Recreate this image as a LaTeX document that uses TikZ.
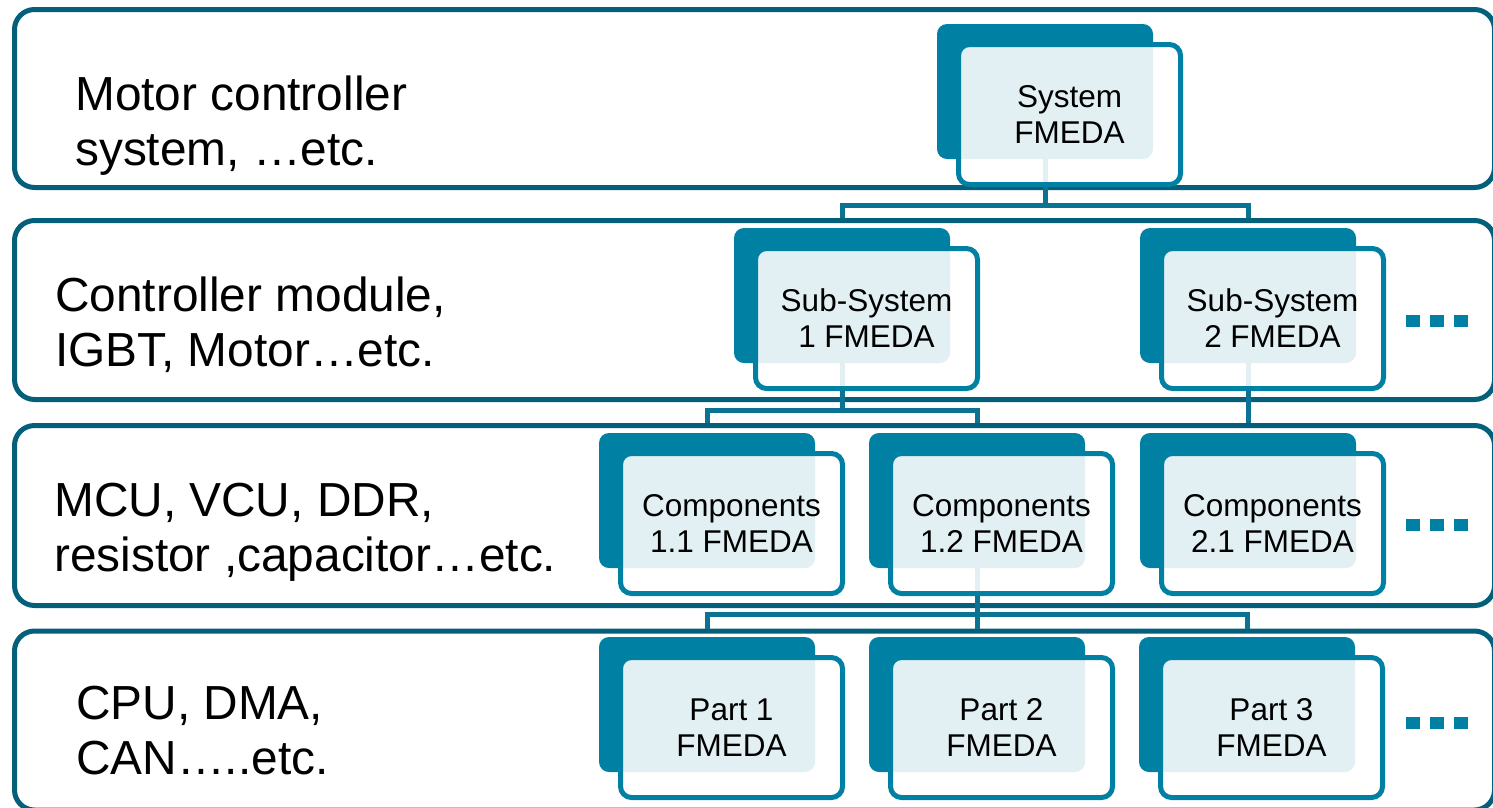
\documentclass[tikz,border=0pt]{standalone}
\usepackage{fontspec}
\setmainfont{Liberation Sans}
\definecolor{bandcol}{HTML}{04607A}
\definecolor{darkcol}{HTML}{0081A3}
\definecolor{conncol}{HTML}{0A7393}
\pgfdeclarelayer{bands}
\pgfdeclarelayer{links}
\pgfsetlayers{bands,links,main}
\tikzset{
  tierband/.style={draw=bandcol, line width=5, fill=white, rounded corners=20, minimum width=1480, minimum height=#1, inner sep=0},
  backbox/.style={fill=darkcol, rounded corners=10, minimum width=216, minimum height=135, inner sep=0},
  frontbox/.style={draw=darkcol, line width=5, fill=white, fill opacity=0.886, text opacity=1, rounded corners=11, minimum width=222, minimum height=140, inner sep=0, align=center, font=\fontsize{31.5}{36}\selectfont},
  tierlabel/.style={anchor=base west, align=left, font=\fontsize{47.8}{55}\selectfont, inner sep=0},
  linkline/.style={draw=conncol, line width=5},
  moresq/.style={fill=darkcol, minimum width=14, minimum height=12.5, inner sep=0},
}
\begin{document}
\begin{tikzpicture}[x=1pt,y=-1pt]
\useasboundingbox (0,0) rectangle (1493,807);
\begin{pgfonlayer}{bands}
\node[tierband=178] (band1) at (754.5,98.5) {};
\node[tierband=179] (band2) at (754.5,310) {};
\node[tierband=180] (band3) at (754.5,515.5) {};
\node[tierband=179] (band4) at (754.5,720.5) {};
\end{pgfonlayer}
% tier labels (anchor = baseline of last line)
\node[tierlabel] (t1) at (75,165) {Motor controller\\system, …etc.};
\node[tierlabel] (t2) at (55,366) {Controller module,\\IGBT, Motor…etc.};
\node[tierlabel] (t3) at (54,571) {MCU, VCU, DDR,\\resistor ,capacitor…etc.};
\node[tierlabel] (t4) at (76,774) {CPU, DMA,\\CAN…..etc.};
% FMEDA boxes
\node[backbox] (sysb) at (1045,91.5) {};
\node[frontbox] (sys) at ([shift={(24.5,23)}]sysb.center) {System\\FMEDA};
\node[backbox] (sub1b) at (842,295.5) {};
\node[frontbox] (sub1) at ([shift={(24.5,23)}]sub1b.center) {Sub-System\\1 FMEDA};
\node[backbox] (sub2b) at (1248,295.5) {};
\node[frontbox] (sub2) at ([shift={(24.5,23)}]sub2b.center) {Sub-System\\2 FMEDA};
\node[backbox] (c11b) at (707,500.5) {};
\node[frontbox] (c11) at ([shift={(24.5,23)}]c11b.center) {Components\\1.1 FMEDA};
\node[backbox] (c12b) at (977,500.5) {};
\node[frontbox] (c12) at ([shift={(24.5,23)}]c12b.center) {Components\\1.2 FMEDA};
\node[backbox] (c21b) at (1248,500.5) {};
\node[frontbox] (c21) at ([shift={(24.5,23)}]c21b.center) {Components\\2.1 FMEDA};
\node[backbox] (p1b) at (707,704.5) {};
\node[frontbox] (p1) at ([shift={(24.5,23)}]p1b.center) {Part 1\\FMEDA};
\node[backbox] (p2b) at (977,704.5) {};
\node[frontbox] (p2) at ([shift={(24.5,23)}]p2b.center) {Part 2\\FMEDA};
\node[backbox] (p3b) at (1247,704.5) {};
\node[frontbox] (p3) at ([shift={(24.5,23)}]p3b.center) {Part 3\\FMEDA};
% more markers
\foreach \r/\yy in {2/321,3/525,4/723}{
  \node[moresq] (m\r a) at (1412.5,\yy) {};
  \node[moresq] (m\r b) at (1436.5,\yy) {};
  \node[moresq] (m\r c) at (1460.5,\yy) {};
}
% connectors
\coordinate (h1) at (0,205.5);
\coordinate (h2) at (0,410.5);
\coordinate (h3) at (0,614.5);
\begin{pgfonlayer}{links}
\draw[linkline] (sysb.south) -- (sysb.south |- h1) -| (sub1b.north |- band2.north);
\draw[linkline] (sysb.south |- h1) -| (sub2b.north |- band2.north);
\draw[linkline] (sub1b.south) -- (sub1b.south |- h2) -| (c11b.north |- band3.north);
\draw[linkline] (sub1b.south |- h2) -| (c12b.north |- band3.north);
\draw[linkline] (sub2b.south) -- (c21b.north |- band3.north);
\draw[linkline] (c12b.south) -- (c12b.south |- h3) -| (p1b.north |- band4.north);
\draw[linkline] (c12b.south |- h3) -- (p2b.north |- band4.north);
\draw[linkline] (c12b.south |- h3) -| (p3b.north |- band4.north);
\end{pgfonlayer}
\end{tikzpicture}
\end{document}
